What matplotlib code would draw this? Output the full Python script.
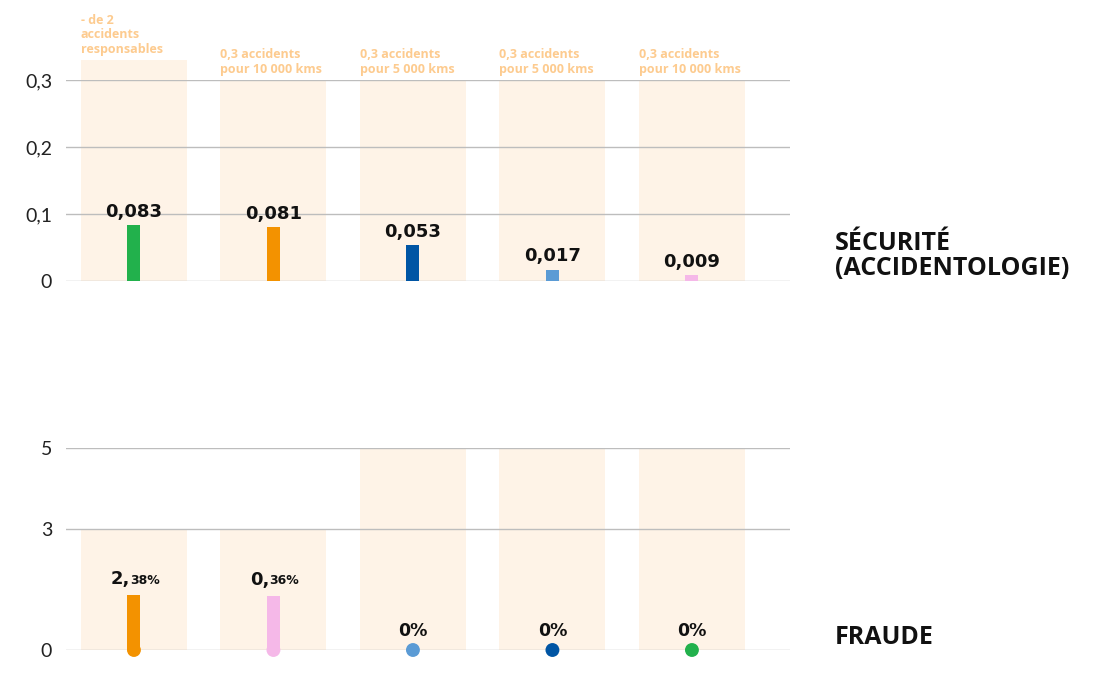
import numpy as np
import matplotlib.pyplot as plt

# Sécurité (accidentologie)
sec_values = [0.083, 0.081, 0.053, 0.017, 0.009]
sec_labels = ["0,083", "0,081", "0,053", "0,017", "0,009"]
sec_targets = [0.33, 0.3, 0.3, 0.3, 0.3]
sec_target_labels = [
    "- de 2\naccidents\nresponsables",
    "0,3 accidents\npour 10 000 kms",
    "0,3 accidents\npour 5 000 kms",
    "0,3 accidents\npour 5 000 kms",
    "0,3 accidents\npour 10 000 kms",
]
sec_colors = ["#22b14c", "#f39200", "#0055a4", "#5b9bd5", "#f5b8e8"]

# Fraude (bar heights as drawn, labels as printed)
fraud_heights = [1.36, 1.34, 0, 0, 0]
fraud_int = ["2,", "0,", "", "", ""]
fraud_dec = ["38%", "36%", "0%", "0%", "0%"]
fraud_targets = [3, 3, 5, 5, 5]
fraud_colors = ["#f39200", "#f5b8e8", "#5b9bd5", "#0055a4", "#22b14c"]

bg_color = "#fef3e7"
target_color = "#fdcb8f"
grid_color = "#bdbdbd"
font = "Open Sans"
vfont = "DejaVu Sans"

fig = plt.figure(figsize=(10.97, 6.75), dpi=100)
ax1 = fig.add_axes([66 / 1097, 1 - 281 / 675, 724 / 1097, 201 / 675])
ax2 = fig.add_axes([66 / 1097, 1 - 650 / 675, 724 / 1097, 202 / 675])

x = np.arange(len(sec_values))
xlim = (-0.487, 4.703)
bg_w = 0.76
bar_w = 0.093


def style_axes(ax, ticks, ticklabels, ylim):
    ax.set_xlim(*xlim)
    ax.set_ylim(*ylim)
    ax.set_yticks(ticks)
    ax.set_yticklabels(ticklabels, fontsize=14, family="Lato", fontweight="normal")
    ax.set_xticks([])
    ax.tick_params(axis="y", length=0, pad=10, colors="#222222")
    for s in ax.spines.values():
        s.set_visible(False)
    ax.grid(axis="y", color=grid_color, lw=1, zorder=1)
    ax.set_axisbelow(False)


# top chart
style_axes(ax1, [0, 0.1, 0.2, 0.3], ["0", "0,1", "0,2", "0,3"], (0, 0.3))
ax1.bar(x, sec_targets, width=bg_w, color=bg_color, zorder=0, clip_on=False)
ax1.bar(x, sec_values, width=bar_w, color=sec_colors, zorder=3)
for i in range(len(x)):
    ax1.annotate(sec_labels[i], (x[i], sec_values[i]), xytext=(0, 3),
                 textcoords="offset points", ha="center", va="bottom",
                 fontsize=13, fontweight="bold", family=vfont, color="#111111",
                 zorder=4)
    ax1.annotate(sec_target_labels[i], (x[i] - bg_w / 2, sec_targets[i]),
                 xytext=(0, 3), textcoords="offset points", ha="left",
                 va="bottom", fontsize=9, fontweight="bold", family=font,
                 color=target_color, linespacing=1.15, annotation_clip=False)

# bottom chart
style_axes(ax2, [0, 3, 5], ["0", "3", "5"], (0, 5))
ax2.bar(x, fraud_targets, width=bg_w, color=bg_color, zorder=0)
ax2.bar(x, fraud_heights, width=bar_w, color=fraud_colors, zorder=3)
ax2.scatter(x, [0] * len(x), s=100, c=fraud_colors, zorder=4, clip_on=False,
            linewidths=0)
for i in range(len(x)):
    if fraud_int[i]:
        t = ax2.annotate(fraud_int[i], (x[i], fraud_heights[i]), xytext=(-3, 5),
                         textcoords="offset points", ha="right", va="bottom",
                         fontsize=13, fontweight="bold", family=vfont,
                         color="#111111")
        ax2.annotate(fraud_dec[i], (1, 0.08), xycoords=t, xytext=(0.3, 0),
                     textcoords="offset points", ha="left", va="bottom",
                     fontsize=9, fontweight="bold", family=vfont,
                     color="#111111")
    else:
        ax2.annotate(fraud_dec[i], (x[i], fraud_heights[i]), xytext=(0, 7),
                     textcoords="offset points", ha="center", va="bottom",
                     fontsize=12.5, fontweight="bold", family=vfont,
                     color="#111111")

# section titles
fig.text(835 / 1097, 1 - 256 / 675, "SÉCURITÉ\n(ACCIDENTOLOGIE)", ha="left",
         va="center", fontsize=18, fontweight="bold", family=font,
         color="#111111", linespacing=1.0)
fig.text(835 / 1097, 1 - 638 / 675, "FRAUDE", ha="left", va="center",
         fontsize=18, fontweight="bold", family=font, color="#111111")

fig.savefig("out.png", dpi=100)
